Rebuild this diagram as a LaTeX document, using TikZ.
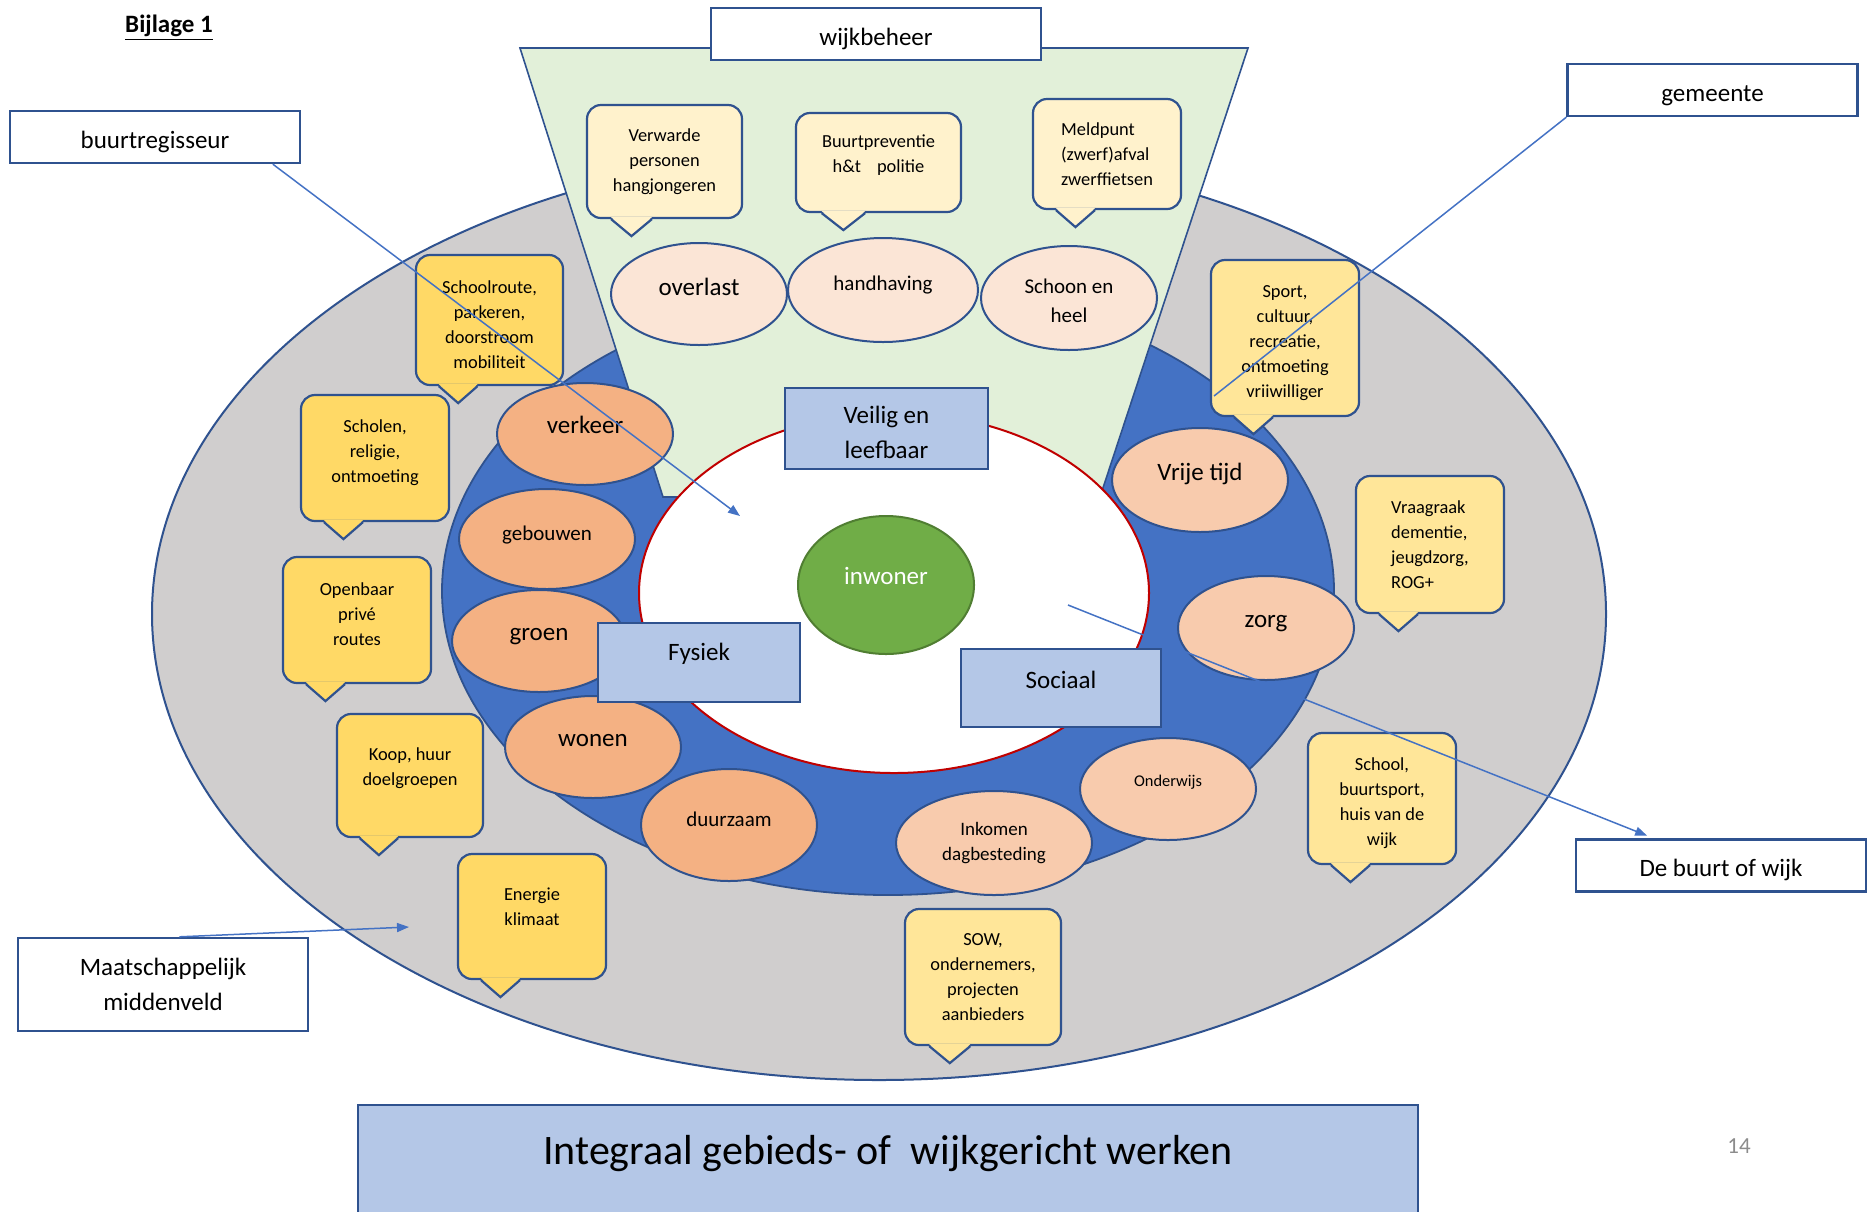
\documentclass[tikz,border=0pt]{standalone}
\usepackage{fontspec}
\setmainfont{Carlito}
\usetikzlibrary{shapes.geometric,arrows.meta,calc}

\definecolor{edge}{HTML}{2F528F}
\definecolor{ringblue}{HTML}{4472C4}
\definecolor{outergray}{HTML}{D0CECE}
\definecolor{funnel}{HTML}{E2F0D9}
\definecolor{kernred}{HTML}{C00000}
\definecolor{thema}{HTML}{B4C7E7}
\definecolor{fys}{HTML}{F4B183}
\definecolor{soc}{HTML}{F8CBAD}
\definecolor{beh}{HTML}{FBE5D6}
\definecolor{gold}{HTML}{FFD966}
\definecolor{cream}{HTML}{FFE699}
\definecolor{pale}{HTML}{FFF2CC}
\definecolor{inw}{HTML}{70AD47}
\definecolor{inwedge}{HTML}{507E32}
\definecolor{pagegray}{HTML}{8C8C8C}

\begin{document}
\begin{tikzpicture}[x=0.5pt,y=-0.5pt,
  tag/.style={draw=edge, line width=1.2pt, fill=white, minimum width=145pt,
    minimum height=26pt, align=center, font=\fontsize{12.5}{17.3}\selectfont},
  oneline/.style={text height=11.4pt, text depth=0pt},
  theme/.style={draw=edge, line width=1.2pt, fill=thema, align=center,
    font=\fontsize{12.5}{17.3}\selectfont},
  spot/.style={ellipse, draw=edge, line width=1pt, fill=#1, minimum width=88pt,
    minimum height=51pt, inner sep=0pt, align=center},
  big/.style={font=\fontsize{12.5}{15}\selectfont},
  mid/.style={font=\fontsize{10.5}{14.3}\selectfont},
  lift/.style={text height=8pt, text depth=#1},
  lift/.default=9pt,
  bubble/.style={draw=edge, line width=1.1pt, rounded corners=7pt, fill=#1,
    align=center, inner sep=2pt, font=\fontsize{9.2}{12.5}\selectfont},
  tipline/.style={draw=edge, line width=1.1pt, line join=miter},
  link/.style={draw=ringblue, line width=0.75pt},
  head/.style={-{Triangle[length=6pt,width=4.5pt]}}]

  \useasboundingbox (0,0) rectangle (1871,1211);

  % bubble tip below a node
  \def\tip#1#2{
    \fill[#2] ($(#1.south west)!0.16!(#1.south east)+(0,-2)$)
      -- ($(#1.south west)!0.29!(#1.south east)+(0,17)$)
      -- ($(#1.south west)!0.42!(#1.south east)+(0,-2)$) -- cycle;
    \draw[tipline] ($(#1.south west)!0.16!(#1.south east)$)
      -- ($(#1.south west)!0.29!(#1.south east)+(0,17)$)
      -- ($(#1.south west)!0.42!(#1.south east)$);
  }

  % rings
  \draw[fill=outergray, draw=edge, line width=1pt] (879,614) ellipse [x radius=727, y radius=466];
  \draw[fill=ringblue, draw=edge, line width=0.9pt] (888,591) ellipse [x radius=446, y radius=304];
  \draw[fill=funnel, draw=edge, line width=0.8pt] (520,48) -- (1248,48) -- (1100,497) -- (663,497) -- cycle;
  \draw[fill=white, draw=kernred, line width=1pt] (894,593) ellipse [x radius=255, y radius=180];

  % centre
  \node[spot=inw, draw=inwedge, text=white, big, lift, minimum height=69pt] (inw) at (886,585) {inwoner};

  % wijkbeheer
  \node[spot=beh, big, lift=7pt] (overlast) at (699,294) {overlast};
  \node[spot=beh, mid, lift=8pt, minimum width=95pt, minimum height=52pt] (handhaving) at (883,290) {handhaving};
  \node[spot=beh, mid, minimum height=52pt] (schoon) at (1069,298) {\mbox{}\\[-4pt]Schoon en\\heel};

  % fysiek
  \node[spot=fys, big, lift] (verkeer) at (585,434) {verkeer};
  \node[spot=fys, mid, lift=6.5pt, minimum height=50pt] (gebouwen) at (547,539) {gebouwen};
  \node[spot=fys, big, lift, minimum width=87pt] (groen) at (539,641) {groen};
  \node[spot=fys, big, lift] (wonen) at (593,747) {wonen};
  \node[spot=fys, mid, lift=6.5pt, minimum height=56pt] (duurzaam) at (729,825) {duurzaam};

  % sociaal
  \node[spot=soc, font=\fontsize{9.5}{12.5}\selectfont, minimum width=98pt, minimum height=52pt] (inkomen) at (994,843) {Inkomen\\dagbesteding};
  \node[spot=soc, font=\fontsize{8.2}{10}\selectfont, lift=11pt] (onderwijs) at (1168,789) {Onderwijs};
  \node[spot=soc, big, lift, minimum height=52pt] (zorg) at (1266,628) {zorg};
  \node[spot=soc, big, lift=8pt, minimum height=52pt] (vrije) at (1200,480) {Vrije tijd};

  % themes
  \node[theme, minimum width=101.5pt, minimum height=40.5pt] (veilig) at (886.5,428.5) {\mbox{}\\[-4.9pt]Veilig en\\leefbaar};
  \node[theme, lift=10pt, minimum width=101pt, minimum height=39.5pt] (fysiek) at (699,662.5) {Fysiek};
  \node[theme, lift=7.5pt, minimum width=100pt, minimum height=39pt] (sociaal) at (1061,688) {Sociaal};

  % bubbles
  \node[bubble=pale, minimum width=77.5pt, minimum height=56.5pt] (verward) at (664.5,161.5) {Verwarde\\personen\\hangjongeren};
  \tip{verward}{pale}
  \node[bubble=pale, minimum width=82.5pt, minimum height=49.5pt] (preventie) at (878.5,162.5) {Buurtpreventie\\h\&t\hspace{8pt}politie\\[-3.4pt]\mbox{}};
  \tip{preventie}{pale}
  \node[bubble=pale, align=left, minimum width=74pt, minimum height=55pt] (meldpunt) at (1107,154) {Meldpunt\\(zwerf)afval\\zwerffietsen};
  \tip{meldpunt}{pale}
  \node[bubble=gold, minimum width=73.5pt, minimum height=65pt] (schoolroute) at (489.5,320) {\mbox{}\\[-1.2pt]Schoolroute,\\parkeren,\\doorstroom\\mobiliteit};
  \tip{schoolroute}{gold}
  \node[bubble=gold, minimum width=74pt, minimum height=63pt] (scholen) at (375,458) {Scholen,\\religie,\\ontmoeting\\[-5.8pt]\mbox{}};
  \tip{scholen}{gold}
  \node[bubble=gold, minimum width=74pt, minimum height=63pt] (openbaar) at (357,620) {Openbaar\\privé\\routes\\[-6.5pt]\mbox{}};
  \tip{openbaar}{gold}
  \node[bubble=gold, minimum width=73pt, minimum height=61.5pt] (koop) at (410,775.5) {Koop, huur\\doelgroepen\\[-3.4pt]\mbox{}};
  \tip{koop}{gold}
  \node[bubble=gold, minimum width=74pt, minimum height=62.5pt] (energie) at (532,916.5) {Energie\\klimaat\\[-2.9pt]\mbox{}};
  \tip{energie}{gold}
  \node[bubble=cream, minimum width=78pt, minimum height=68pt] (sow) at (983,977) {SOW,\\ondernemers,\\projecten\\aanbieders};
  \tip{sow}{cream}
  \node[bubble=cream, minimum width=74pt, minimum height=78pt] (sport) at (1285,338) {\mbox{}\\[-1.2pt]Sport,\\cultuur,\\recreatie,\\ontmoeting\\vriiwilliger};
  \tip{sport}{cream}
  \node[bubble=cream, align=left, minimum width=74pt, minimum height=68.5pt] (vraag) at (1430,544.5) {Vraagraak\\dementie,\\jeugdzorg,\\ROG+};
  \tip{vraag}{cream}
  \node[bubble=cream, minimum width=74pt, minimum height=65.5pt] (school) at (1382,798.5) {\mbox{}\\[-1.2pt]School,\\buurtsport,\\huis van de\\wijk};
  \tip{school}{cream}

  % actors
  \node[tag, oneline] (breg) at (155,137) {buurtregisseur};
  \node[tag, oneline, minimum width=165pt] (beheer) at (876,34) {wijkbeheer};
  \node[tag, oneline] (gem) at (1712.5,90) {gemeente};
  \node[tag, oneline] (wijk) at (1721,865.5) {De buurt of wijk};
  \node[tag, minimum height=46.5pt] (maat) at (163,984.5) {Maatschappelijk\\middenveld};

  % pointers
  \coordinate (bregEnd) at (740,516);
  \coordinate (gemEnd) at (1214,396);
  \coordinate (wijkStart) at (1068,605);
  \coordinate (maatEnd) at (409,927);
  \draw[link, head] (breg.-13.5) -- (bregEnd);
  \draw[link] (gem.south west) -- (gemEnd);
  \draw[link, head, shorten >=3.5pt] (wijkStart) -- (wijk.158);
  \draw[link, head] (maat.71) -- (maatEnd);

  % page texts
  \node[font=\fontsize{12.5}{15}\selectfont\bfseries] (bijlage) at (169,28) {\underline{Bijlage 1}};
  \node[theme, anchor=base, minimum width=530pt, inner ysep=4pt, text height=25.5pt,
    text depth=24pt, font=\fontsize{21}{25}\selectfont] (titel) at (888,1164) {Integraal gebieds- of \ wijkgericht werken};
  \node[text=pagegray, font=\fontsize{11.5}{14}\selectfont] (pagina) at (1739,1146) {14};

\end{tikzpicture}
\end{document}
